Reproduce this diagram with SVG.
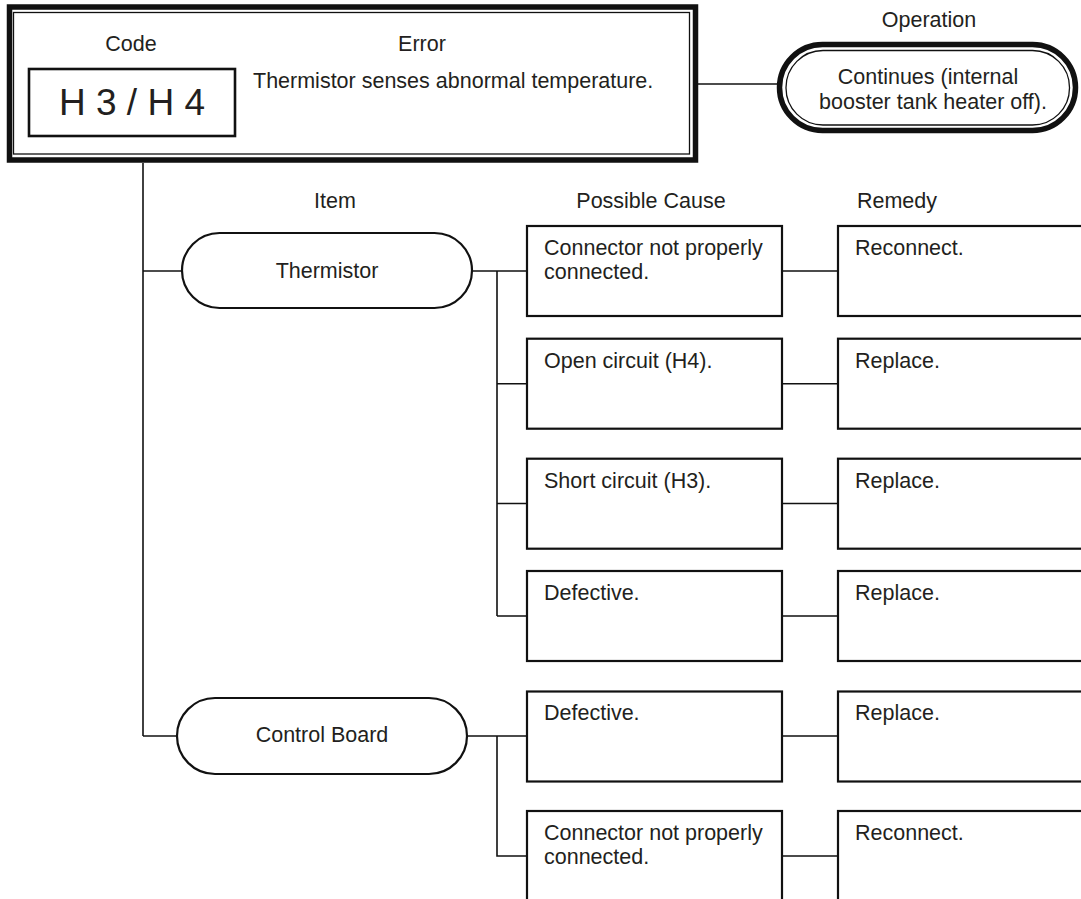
<svg xmlns="http://www.w3.org/2000/svg" width="1081" height="899" viewBox="0 0 1081 899">
  <style>
    text { font-family: "Liberation Sans", Arial, Helvetica, sans-serif; font-size: 21.5px; fill: #231f20; }
    .c { text-anchor: middle; }
    .box { fill: #ffffff; stroke: #111111; stroke-width: 2.2; }
    .pill { fill: #ffffff; stroke: #111111; stroke-width: 2.2; }
    .thick { fill: none; stroke: #111111; stroke-width: 5.5; }
    .thin { fill: none; stroke: #111111; stroke-width: 1.3; }
    .conn { fill: none; stroke: #111111; stroke-width: 1.6; }
  </style>
  <rect width="1081" height="899" fill="#ffffff"/>

  <g id="connectors">
    <path class="conn" d="M698 84 H777"/>
    <path class="conn" d="M143 163 V736"/>
    <path class="conn" d="M143 271 H182"/>
    <path class="conn" d="M143 736 H177"/>
    <path class="conn" d="M472 271 H527 M497 271 V616 M497 383.7 H527 M497 503.5 H527 M497 616 H527"/>
    <path class="conn" d="M467 736 H527 M497 736 V856 H527"/>
    <path class="conn" d="M782 271 H838 M782 383.7 H838 M782 503.5 H838 M782 616 H838 M782 736 H838 M782 856 H838"/>
  </g>

  <g id="error-box">
    <rect class="thick" x="9.5" y="7" width="686" height="153"/>
    <rect class="thin" x="13.5" y="12.5" width="676" height="141.5"/>
    <text class="c" x="131" y="51">Code</text>
    <text class="c" x="422" y="51">Error</text>
    <text x="253" y="88">Thermistor senses abnormal temperature.</text>
  </g>

  <g id="code">
    <rect x="29" y="69" width="206" height="67" fill="#ffffff" stroke="#111111" stroke-width="2.6"/>
    <text class="c" x="132" y="115" style="font-size:37px">H 3 / H 4</text>
  </g>

  <g id="operation">
    <text class="c" x="929" y="27">Operation</text>
    <rect class="thick" x="779.5" y="44.5" width="296" height="86" rx="43" ry="43" fill="#ffffff"/>
    <rect class="thin" x="786" y="50.5" width="283.5" height="74.5" rx="37" ry="37"/>
    <text class="c" x="928" y="84">Continues (internal</text>
    <text class="c" x="933" y="109">booster tank heater off).</text>
  </g>

  <g id="headers">
    <text class="c" x="335" y="208">Item</text>
    <text class="c" x="651" y="208">Possible Cause</text>
    <text class="c" x="897" y="208">Remedy</text>
  </g>

  <g id="item-thermistor">
    <rect class="pill" x="182" y="233" width="290" height="75" rx="37.5" ry="37.5"/>
    <text class="c" x="327" y="278">Thermistor</text>
  </g>
  <g id="item-control-board">
    <rect class="pill" x="177" y="698" width="290" height="76" rx="38" ry="38"/>
    <text class="c" x="322" y="742">Control Board</text>
  </g>

  <g id="cause-1">
    <rect class="box" x="527" y="226" width="255" height="90"/>
    <text x="544" y="255">Connector not properly</text>
    <text x="544" y="279">connected.</text>
  </g>
  <g id="cause-2">
    <rect class="box" x="527" y="338.7" width="255" height="90"/>
    <text x="544" y="367.5">Open circuit (H4).</text>
  </g>
  <g id="cause-3">
    <rect class="box" x="527" y="458.7" width="255" height="90"/>
    <text x="544" y="488">Short circuit (H3).</text>
  </g>
  <g id="cause-4">
    <rect class="box" x="527" y="571" width="255" height="90"/>
    <text x="544" y="600">Defective.</text>
  </g>
  <g id="cause-5">
    <rect class="box" x="527" y="691.5" width="255" height="90"/>
    <text x="544" y="720">Defective.</text>
  </g>
  <g id="cause-6">
    <rect class="box" x="527" y="811" width="255" height="100"/>
    <text x="544" y="840">Connector not properly</text>
    <text x="544" y="864">connected.</text>
  </g>

  <g id="remedy-1">
    <rect class="box" x="838" y="226" width="260" height="90"/>
    <text x="855" y="255">Reconnect.</text>
  </g>
  <g id="remedy-2">
    <rect class="box" x="838" y="338.7" width="260" height="90"/>
    <text x="855" y="367.5">Replace.</text>
  </g>
  <g id="remedy-3">
    <rect class="box" x="838" y="458.7" width="260" height="90"/>
    <text x="855" y="488">Replace.</text>
  </g>
  <g id="remedy-4">
    <rect class="box" x="838" y="571" width="260" height="90"/>
    <text x="855" y="600">Replace.</text>
  </g>
  <g id="remedy-5">
    <rect class="box" x="838" y="691.5" width="260" height="90"/>
    <text x="855" y="720">Replace.</text>
  </g>
  <g id="remedy-6">
    <rect class="box" x="838" y="811" width="260" height="100"/>
    <text x="855" y="840">Reconnect.</text>
  </g>
</svg>
